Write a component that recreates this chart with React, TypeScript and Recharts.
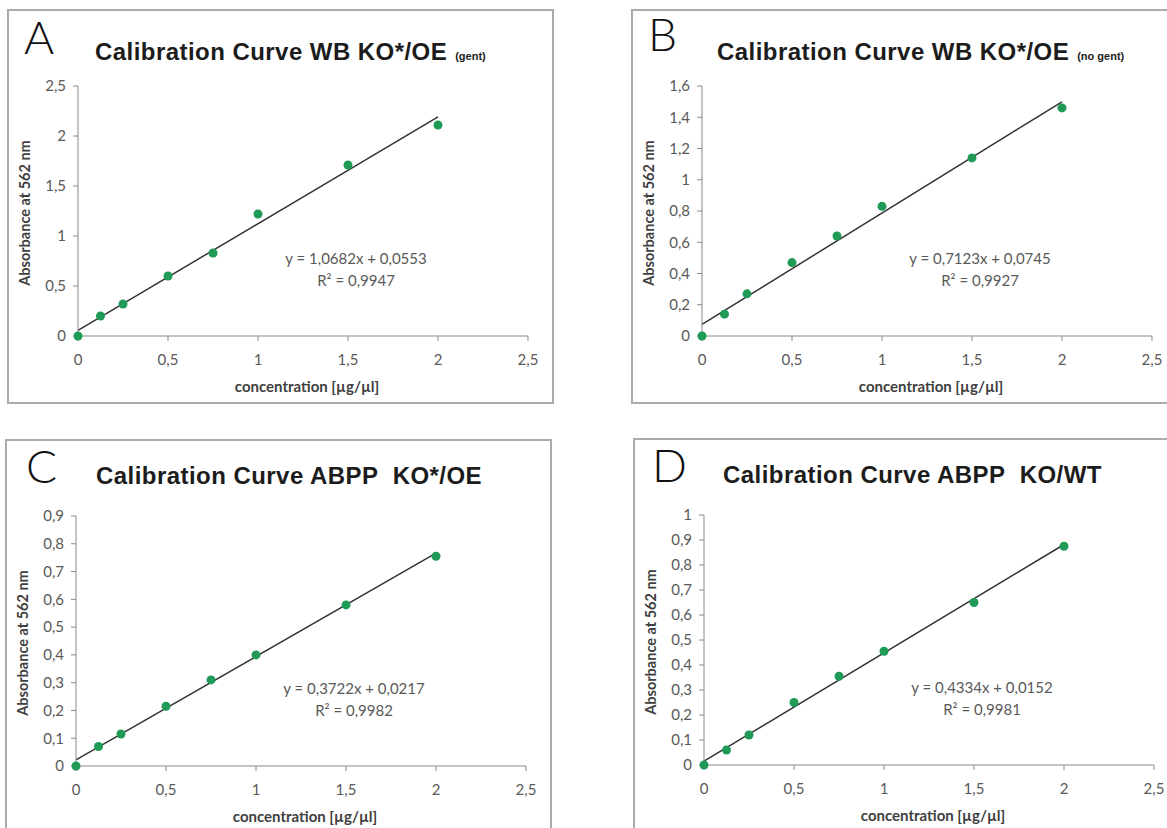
import { ComposedChart, Scatter, XAxis, YAxis, ReferenceLine } from "recharts";

// protein standard concentrations [µg/µl]
const CONCENTRATIONS = [0, 0.125, 0.25, 0.5, 0.75, 1, 1.5, 2];
const X_TICKS = [0, 0.5, 1, 1.5, 2, 2.5];

// absorbance at 562 nm
const WB_GENT = [0, 0.2, 0.32, 0.6, 0.83, 1.22, 1.71, 2.11];
const WB_NO_GENT = [0, 0.14, 0.27, 0.47, 0.64, 0.83, 1.14, 1.46];
const ABPP_KO_OE = [0, 0.07, 0.115, 0.215, 0.31, 0.4, 0.58, 0.755];
const ABPP_KO_WT = [0, 0.06, 0.12, 0.25, 0.355, 0.455, 0.65, 0.875];

const Y_TICKS_A = [0, 0.5, 1, 1.5, 2, 2.5];
const Y_TICKS_B = [0, 0.2, 0.4, 0.6, 0.8, 1, 1.2, 1.4, 1.6];
const Y_TICKS_C = [0, 0.1, 0.2, 0.3, 0.4, 0.5, 0.6, 0.7, 0.8, 0.9];
const Y_TICKS_D = [0, 0.1, 0.2, 0.3, 0.4, 0.5, 0.6, 0.7, 0.8, 0.9, 1];

// linear trendlines as printed on the charts
const SLOPES = [1.0682, 0.7123, 0.3722, 0.4334];
const INTERCEPTS = [0.0553, 0.0745, 0.0217, 0.0152];
const R_SQUARED = [0.9947, 0.9927, 0.9982, 0.9981];

const TITLES = [
  "Calibration Curve WB KO*/OE",
  "Calibration Curve WB KO*/OE",
  "Calibration Curve ABPP\u00a0 KO*/OE",
  "Calibration Curve ABPP\u00a0 KO/WT",
];
const TITLE_NOTES = ["(gent)", "(no gent)", "", ""];
const LETTERS = ["A", "B", "C", "D"];

const FRAME_W = 547;
const FRAME_H = 395;
const POINT_COLOR = "#1f9a57";
const AXIS_COLOR = "#8a8a8a";
const TEXT_GRAY = "#595959";
const LABEL_FONT = "Lato, 'Open Sans', sans-serif";

const comma = (v: number) => String(v).replace(".", ",");

type PanelProps = {
  idx: number;
  values: number[];
  yTicks: number[];
  left: number;
  top: number;
  titleLeft: number;
  titleCenter: number;
  letterLeft: number;
  letterTop: number;
};

function Panel({ idx, values, yTicks, left, top, titleLeft, titleCenter, letterLeft, letterTop }: PanelProps) {
  const points = CONCENTRATIONS.map((x, i) => ({ x, y: values[i] }));
  const slope = SLOPES[idx];
  const icpt = INTERCEPTS[idx];
  const xEnd = CONCENTRATIONS[CONCENTRATIONS.length - 1];
  const yMax = yTicks[yTicks.length - 1];

  return (
    <div
      style={{
        position: "absolute",
        left,
        top,
        width: FRAME_W,
        height: FRAME_H,
        border: "2px solid #ababab",
        boxSizing: "border-box",
        background: "#fff",
      }}
    >
      <div
        style={{
          position: "absolute",
          left: letterLeft,
          top: letterTop - 8,
          fontFamily: "Lato, 'DejaVu Sans', sans-serif",
          fontWeight: 300,
          fontSize: 46,
          lineHeight: "46px",
          color: "#111",
        }}
      >
        {LETTERS[idx]}
      </div>
      <div
        style={{
          position: "absolute",
          left: titleLeft,
          top: titleCenter - 14,
          lineHeight: "28px",
          whiteSpace: "nowrap",
          fontFamily: "'Liberation Sans', Arial, sans-serif",
          fontWeight: 700,
          fontSize: 24,
          letterSpacing: 0.45,
          color: "#1c1c1c",
        }}
      >
        {TITLES[idx]}
        {TITLE_NOTES[idx] && (
          <span style={{ fontSize: 11, letterSpacing: 0, marginLeft: 8 }}>{TITLE_NOTES[idx]}</span>
        )}
      </div>

      <ComposedChart
        width={FRAME_W - 4}
        height={FRAME_H - 4}
        margin={{ top: 75, right: 24, bottom: 36, left: 29 }}
        style={{ position: "absolute", left: 0, top: 0 }}
      >
        <XAxis
          type="number"
          dataKey="x"
          domain={[0, 2.5]}
          ticks={X_TICKS}
          tickFormatter={comma}
          height={30}
          tickSize={5}
          tickMargin={13}
          stroke={AXIS_COLOR}
          tick={{ fill: TEXT_GRAY, fontSize: 15, fontFamily: LABEL_FONT }}
        />
        <YAxis
          type="number"
          dataKey="y"
          domain={[0, yMax]}
          ticks={yTicks}
          tickFormatter={comma}
          width={40}
          tickSize={5}
          tickMargin={7}
          stroke={AXIS_COLOR}
          tick={{ fill: TEXT_GRAY, fontSize: 15, fontFamily: LABEL_FONT }}
        />
        <Scatter
          data={points}
          isAnimationActive={false}
          shape={(p: any) => <circle cx={p.cx} cy={p.cy} r={4.5} fill={POINT_COLOR} />}
        />
        <ReferenceLine
          segment={[
            { x: 0, y: icpt },
            { x: xEnd, y: slope * xEnd + icpt },
          ]}
          stroke="#333"
          strokeWidth={1.5}
          ifOverflow="visible"
        />
      </ComposedChart>

      <div
        style={{
          position: "absolute",
          left: 16 - 100,
          top: 202 - 9,
          width: 200,
          textAlign: "center",
          transform: "rotate(-90deg)",
          fontFamily: LABEL_FONT,
          fontWeight: 700,
          fontSize: 14.5,
          lineHeight: "18px",
          color: "#404040",
          whiteSpace: "nowrap",
        }}
      >
        Absorbance at 562 nm
      </div>
      <div
        style={{
          position: "absolute",
          left: 298 - 120,
          top: 375 - 10,
          width: 240,
          textAlign: "center",
          fontFamily: LABEL_FONT,
          fontWeight: 700,
          fontSize: 15,
          lineHeight: "20px",
          color: "#404040",
        }}
      >
        concentration [µg/µl]
      </div>
      <div
        style={{
          position: "absolute",
          left: 347 - 110,
          top: 247 - 11,
          width: 220,
          textAlign: "center",
          fontFamily: LABEL_FONT,
          fontSize: 15,
          lineHeight: "22px",
          color: TEXT_GRAY,
        }}
      >
        <div>{`y = ${comma(slope)}x + ${comma(icpt)}`}</div>
        <div>{`R² = ${comma(R_SQUARED[idx])}`}</div>
      </div>
    </div>
  );
}

export default function App() {
  return (
    <div
      style={{
        position: "absolute",
        left: 0,
        top: 0,
        width: 1167,
        height: 828,
        overflow: "hidden",
        background: "#fff",
      }}
    >
      <Panel idx={0} values={WB_GENT} yTicks={Y_TICKS_A} left={7} top={9}
        titleLeft={86} titleCenter={41} letterLeft={15} letterTop={11} />
      <Panel idx={1} values={WB_NO_GENT} yTicks={Y_TICKS_B} left={631} top={9}
        titleLeft={84} titleCenter={41} letterLeft={15} letterTop={8} />
      <Panel idx={2} values={ABPP_KO_OE} yTicks={Y_TICKS_C} left={5} top={439}
        titleLeft={89} titleCenter={35} letterLeft={19} letterTop={10} />
      <Panel idx={3} values={ABPP_KO_WT} yTicks={Y_TICKS_D} left={633} top={438}
        titleLeft={88} titleCenter={35} letterLeft={17} letterTop={10} />
    </div>
  );
}
